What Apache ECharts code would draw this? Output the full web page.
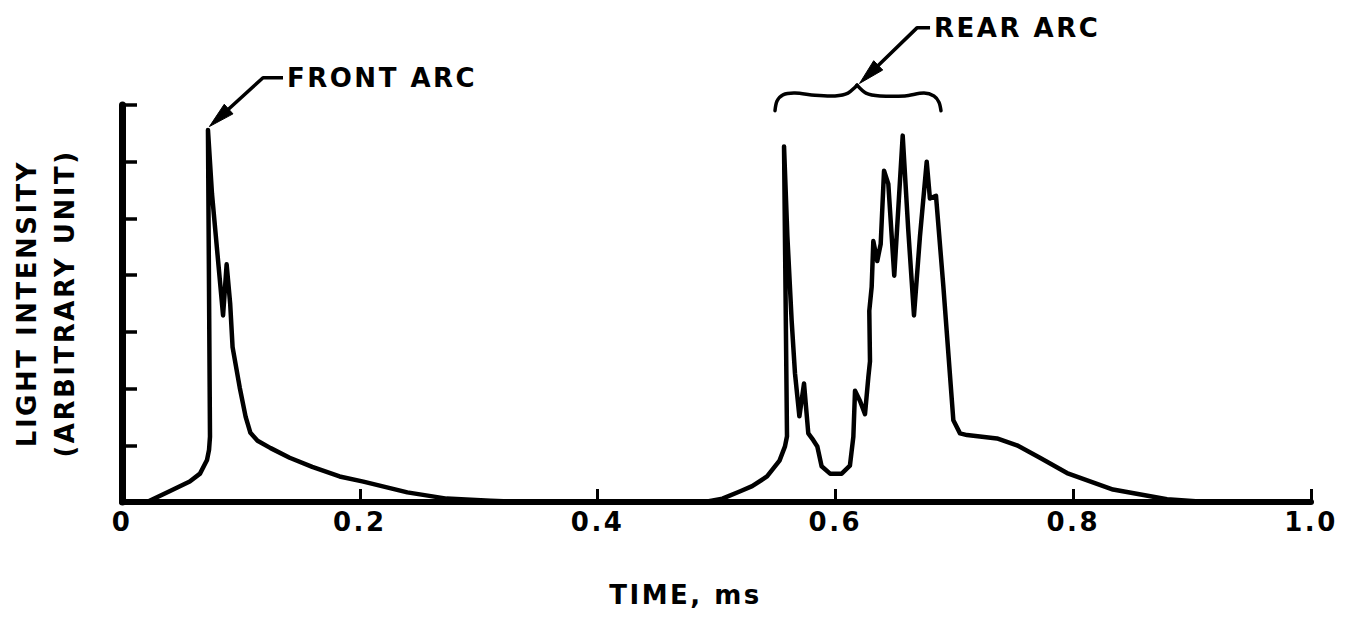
<!DOCTYPE html>
<html>
<head>
<meta charset="utf-8">
<script src="https://cdn.jsdelivr.net/npm/echarts@6/dist/echarts.min.js"></script>
<style>
html, body { margin: 0; padding: 0; background: #ffffff; }
#chart { width: 1367px; height: 617px; }
#chart text { letter-spacing: 2.5px; }
</style>
</head>
<body>
<div id="chart"></div>
<script>
// ---- data ----
const timeMs = [
  0, 0.021, 0.04, 0.057, 0.0656, 0.0715, 0.0732, 0.074, 0.0723, 0.0757, 0.079, 0.085, 0.088, 0.091, 0.093,
  0.099, 0.104, 0.108, 0.114, 0.125, 0.141, 0.16, 0.183, 0.203, 0.24, 0.273, 0.31, 0.34,
  0.49, 0.505, 0.52, 0.53, 0.5425, 0.553, 0.5576, 0.5593, 0.5568, 0.5596, 0.5632, 0.566, 0.5697, 0.5736,
  0.5772, 0.5814, 0.5848, 0.5884, 0.5955, 0.6053, 0.6122, 0.6151, 0.6165, 0.6207, 0.6249, 0.6277, 0.6291,
  0.6285, 0.6305, 0.6319, 0.6352, 0.6381, 0.6409, 0.6445, 0.6495, 0.6566, 0.6613, 0.6661, 0.6711, 0.6768,
  0.6795, 0.6846, 0.6908, 0.6992, 0.7048, 0.7107, 0.7359, 0.7527, 0.772, 0.7948, 0.8335, 0.8789, 0.906, 1.0
];
const intensity = [
  0, 0, 0.19, 0.36, 0.5, 0.74, 0.92, 1.15, 6.56, 5.43, 4.67, 3.29, 4.19, 3.49, 2.73,
  2.02, 1.5, 1.22, 1.08, 0.95, 0.78, 0.62, 0.45, 0.36, 0.17, 0.06, 0.02, 0,
  0, 0.06, 0.19, 0.28, 0.45, 0.73, 0.98, 1.16, 6.27, 4.69, 3.2, 2.27, 1.51, 2.09,
  1.21, 1.09, 0.98, 0.63, 0.5, 0.5, 0.64, 1.15, 1.96, 1.78, 1.55, 2.2, 2.48,
  3.37, 3.79, 4.6, 4.25, 4.55, 5.84, 5.61, 3.99, 6.46, 4.79, 3.29, 4.68, 6.0,
  5.35, 5.4, 3.8, 1.44, 1.21, 1.18, 1.12, 1.0, 0.78, 0.51, 0.22, 0.05, 0.01, 0
];
const xTickLabels = ['0', '0.2', '0.4', '0.6', '0.8', '1.0'];
const xAxisTitle = 'TIME, ms';
const yAxisTitleLines = ['LIGHT INTENSITY', '(ARBITRARY UNIT)'];
const annotationTexts = ['FRONT ARC', 'REAR ARC'];

// annotation anchors in data coordinates (time, intensity)
const frontLeader = [[0.1354, 7.48], [0.1186, 7.48], [0.0735, 6.62]];
const rearLeader = [[0.6796, 8.36], [0.6686, 8.36], [0.6203, 7.38]];
const braceLeft = [[0.5492, 6.90], [0.5509, 7.07], [0.5559, 7.18], [0.566, 7.21], [0.5828, 7.17], [0.5997, 7.16], [0.6106, 7.21], [0.6182, 7.35]];
const braceRight = [[0.6182, 7.35], [0.6257, 7.21], [0.6375, 7.16], [0.6585, 7.16], [0.6745, 7.21], [0.6829, 7.16], [0.6871, 7.05], [0.6888, 6.90]];

// ---- chart ----
const FONT = '"DejaVu Sans", sans-serif';
const seriesData = timeMs.map((t, i) => [t, intensity[i]]);

const chart = echarts.init(document.getElementById('chart'), null, { renderer: 'svg' });

chart.setOption({
  animation: false,
  backgroundColor: '#ffffff',
  grid: { left: 122, right: 56, top: 105, bottom: 115, containLabel: false, outerBoundsMode: 'none' },
  xAxis: {
    type: 'value',
    min: 0, max: 1, interval: 0.2,
    axisLine: { show: true, lineStyle: { color: '#000', width: 6, cap: 'round' } },
    axisTick: { show: true, inside: true, length: 13, lineStyle: { color: '#000', width: 3 } },
    splitLine: { show: false },
    axisLabel: {
      margin: 7, color: '#000', fontFamily: FONT, fontWeight: 'bold', fontSize: 26,
      formatter: (v) => xTickLabels[Math.round(v / 0.2)]
    },
    name: xAxisTitle,
    nameLocation: 'middle',
    nameGap: 80,
    nameTextStyle: { color: '#000', fontFamily: FONT, fontWeight: 'bold', fontSize: 26, padding: [0, 62, 0, 0] }
  },
  yAxis: {
    type: 'value',
    min: 0, max: 7, interval: 1,
    axisLine: { show: true, lineStyle: { color: '#000', width: 7, cap: 'round' } },
    axisTick: { show: true, inside: true, length: 15, lineStyle: { color: '#000', width: 3.5 } },
    splitLine: { show: false },
    axisLabel: { show: false },
    name: yAxisTitleLines.join('\n'),
    nameLocation: 'middle',
    nameGap: 38,
    nameTextStyle: { color: '#000', fontFamily: FONT, fontWeight: 'bold', fontSize: 26, lineHeight: 38 }
  },
  series: [{
    type: 'line',
    data: seriesData,
    showSymbol: false,
    symbol: 'none',
    smooth: false,
    lineStyle: { color: '#000', width: 4.5, join: 'round', cap: 'round' },
    silent: true
  }]
});

function px(p) { return chart.convertToPixel({ xAxisIndex: 0, yAxisIndex: 0 }, p); }

function leaderElements(points, label) {
  const pts = points.map(px);
  const tip = pts[pts.length - 1];
  const from = pts[pts.length - 2];
  const dx = tip[0] - from[0], dy = tip[1] - from[1];
  const d = Math.hypot(dx, dy);
  const ux = dx / d, uy = dy / d;
  const len = 26, hw = 6.5;
  const bx = tip[0] - ux * len, by = tip[1] - uy * len;
  const linePts = pts.slice(0, -1).concat([[bx + ux * 4, by + uy * 4]]);
  return [
    { type: 'polyline', z: 100, shape: { points: linePts }, style: { stroke: '#000', lineWidth: 3.5, fill: null, lineJoin: 'round' } },
    { type: 'polygon', z: 100, shape: { points: [tip, [bx - uy * hw, by + ux * hw], [bx + uy * hw, by - ux * hw]] }, style: { fill: '#000', stroke: '#000', lineWidth: 1 } },
    { type: 'text', z: 100, x: pts[0][0] + 4, y: pts[0][1], style: { text: label, fill: '#000', font: 'bold 26px ' + FONT, align: 'left', verticalAlign: 'middle' } }
  ];
}

const elements = []
  .concat(leaderElements(frontLeader, annotationTexts[0]))
  .concat(leaderElements(rearLeader, annotationTexts[1]))
  .concat([
    { type: 'polyline', z: 100, shape: { points: braceLeft.map(px), smooth: 0.3 }, style: { stroke: '#000', lineWidth: 3.5, fill: null, lineCap: 'round' } },
    { type: 'polyline', z: 100, shape: { points: braceRight.map(px), smooth: 0.3 }, style: { stroke: '#000', lineWidth: 3.5, fill: null, lineCap: 'round' } }
  ]);

chart.setOption({ graphic: { elements: elements } });
</script>
</body>
</html>
